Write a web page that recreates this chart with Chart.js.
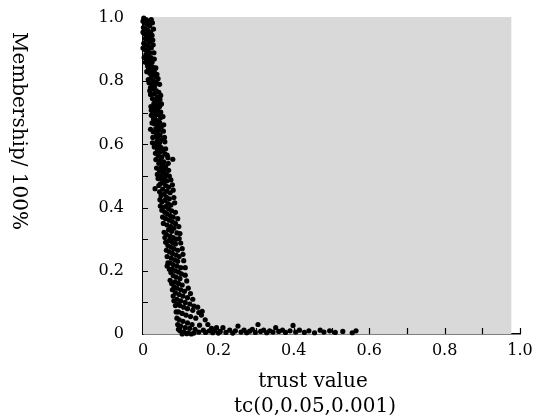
<!DOCTYPE html>
<html>
<head>
<meta charset="utf-8">
<script src="https://cdn.jsdelivr.net/npm/chart.js@4/dist/chart.umd.min.js"></script>
<style>
  html, body { margin: 0; padding: 0; background: #ffffff; }
  #wrap { width: 533px; height: 420px; position: relative; }
</style>
</head>
<body>
<div id="wrap"><canvas id="c" width="533" height="420"></canvas></div>
<script>
// ---- data: [trust value, membership] ----
const dropsTop = [
  [0.002,1.0],[0.008,0.995],[0.015,0.99],[0.004,0.985],[0.011,0.98],[0.018,0.975],[0.001,0.97],[0.007,0.965],
  [0.013,0.96],[0.02,0.955],[0.003,0.95],[0.01,0.945],[0.016,0.94],[0.006,0.935],[0.012,0.93],[0.019,0.925],
  [0.002,0.92],[0.009,0.915],[0.015,0.91],[0.022,0.905],[0.005,0.9],[0.012,0.895],[0.018,0.89],[0.008,0.885],
  [0.014,0.88],[0.021,0.875],[0.01,0.87],[0.017,0.865],[0.024,0.86],[0.013,0.855],
  [0.019,0.85],[0.026,0.845],[0.015,0.84],[0.022,0.835],[0.03,0.83],[0.018,0.825],[0.025,0.82],[0.033,0.815],
  [0.021,0.81],[0.028,0.8],[0.036,0.795],[0.024,0.79],[0.031,0.785],[0.02,0.78],
  [0.027,0.775],[0.035,0.77],[0.042,0.765],[0.03,0.76],[0.038,0.75],[0.025,0.745],[0.033,0.74],[0.041,0.735],
  [0.029,0.73],[0.036,0.725],[0.044,0.72],[0.031,0.715],[0.039,0.71],[0.026,0.705],[0.034,0.7],
  [0.022,0.995],[0.025,0.985],[0.0,0.99],[0.028,0.965],[0.0,0.955],[0.024,0.945],[0.026,0.93],[0.0,0.905],
  [0.027,0.915],[0.029,0.89],[0.003,0.875],[0.006,0.86],[0.03,0.87],
  [0.012,0.848],[0.034,0.842],[0.01,0.83],[0.037,0.822],[0.014,0.805],[0.04,0.808],[0.016,0.795],[0.044,0.79],
  [0.018,0.77],[0.047,0.755],[0.02,0.758],[0.045,0.742],[0.021,0.72],[0.049,0.728],[0.022,0.708],[0.047,0.702]
];
const dropsMiddle = [
  [0.042,0.695],[0.032,0.69],[0.047,0.685],[0.028,0.68],[0.037,0.675],[0.044,0.67],[0.03,0.665],[0.04,0.66],
  [0.048,0.655],[0.034,0.65],[0.042,0.645],[0.027,0.64],[0.036,0.635],[0.045,0.63],[0.033,0.625],[0.04,0.62],
  [0.05,0.615],[0.037,0.61],[0.044,0.605],[0.032,0.6],
  [0.041,0.595],[0.048,0.59],[0.038,0.585],[0.052,0.58],[0.044,0.575],[0.058,0.57],[0.04,0.565],[0.05,0.56],
  [0.079,0.553],[0.066,0.558],[0.046,0.55],[0.055,0.545],[0.042,0.54],[0.051,0.535],[0.06,0.53],[0.047,0.525],
  [0.056,0.52],[0.044,0.515],[0.053,0.51],[0.062,0.505],[0.048,0.5],
  [0.057,0.495],[0.05,0.49],[0.064,0.485],[0.054,0.48],[0.046,0.475],[0.06,0.47],[0.068,0.465],[0.032,0.46],
  [0.052,0.458],[0.063,0.452],[0.072,0.447],[0.056,0.443],[0.048,0.438],[0.062,0.433],[0.07,0.428],[0.058,0.423],
  [0.05,0.418],[0.066,0.413],[0.074,0.408],[0.06,0.403],[0.053,0.4],
  [0.068,0.396],[0.076,0.39],[0.058,0.385],[0.064,0.38],[0.072,0.375],[0.08,0.37],[0.06,0.365],[0.07,0.36],
  [0.078,0.355],[0.086,0.35],[0.064,0.345],[0.074,0.34],[0.082,0.335],[0.068,0.33],[0.076,0.325],[0.09,0.32],
  [0.062,0.315],[0.072,0.31],[0.08,0.305],[0.088,0.3],
  [0.022,0.692],[0.053,0.688],[0.024,0.668],[0.055,0.662],[0.02,0.648],[0.054,0.642],[0.026,0.622],[0.057,0.622],
  [0.025,0.605],[0.058,0.608],
  [0.03,0.592],[0.06,0.586],[0.033,0.572],[0.064,0.566],[0.034,0.552],[0.067,0.54],[0.036,0.525],[0.068,0.518],
  [0.038,0.505],[0.07,0.5],
  [0.04,0.492],[0.074,0.488],[0.042,0.47],[0.078,0.472],[0.044,0.45],[0.08,0.455],[0.045,0.425],[0.082,0.432],
  [0.046,0.405],[0.084,0.415],
  [0.05,0.392],[0.086,0.385],[0.052,0.37],[0.092,0.365],[0.054,0.35],[0.095,0.34],[0.056,0.322],[0.098,0.318],
  [0.058,0.305],[0.096,0.302]
];
const dropsLow = [
  [0.07,0.296],[0.078,0.29],[0.086,0.285],[0.066,0.28],[0.074,0.275],[0.082,0.27],[0.092,0.265],[0.07,0.26],
  [0.078,0.255],[0.088,0.25],[0.096,0.245],[0.075,0.24],[0.084,0.235],[0.092,0.23],[0.072,0.225],[0.08,0.22],
  [0.09,0.215],[0.1,0.21],[0.078,0.205],[0.086,0.2],[0.064,0.215],
  [0.094,0.196],[0.102,0.19],[0.08,0.185],[0.088,0.18],[0.098,0.175],[0.072,0.17],[0.085,0.165],[0.094,0.16],
  [0.104,0.155],[0.082,0.15],[0.09,0.145],[0.1,0.14],[0.11,0.135],[0.086,0.13],[0.096,0.125],[0.106,0.12],
  [0.118,0.115],[0.09,0.11],[0.1,0.105],[0.112,0.1],[0.124,0.095],
  [0.092,0.095],[0.098,0.09],[0.108,0.085],[0.118,0.08],[0.132,0.075],[0.094,0.07],[0.104,0.065],[0.114,0.06],
  [0.126,0.055],[0.14,0.05],[0.096,0.045],[0.106,0.04],[0.118,0.035],[0.13,0.03],[0.15,0.028],[0.1,0.025],
  [0.112,0.02],[0.124,0.018],[0.138,0.015],[0.16,0.012],[0.176,0.01],[0.098,0.01],[0.108,0.006],[0.12,0.004],
  [0.135,0.003],[0.148,0.006],[0.166,0.005],[0.185,0.004],[0.2,0.003],[0.104,0.0],[0.116,0.001],[0.128,0.0],
  [0.155,0.06],[0.157,0.072],
  [0.06,0.29],[0.1,0.288],[0.062,0.265],[0.104,0.27],[0.064,0.245],[0.106,0.252],[0.066,0.225],[0.108,0.232],
  [0.07,0.205],[0.112,0.21],
  [0.074,0.195],[0.112,0.186],[0.076,0.16],[0.116,0.168],[0.078,0.14],[0.12,0.145],[0.08,0.12],[0.126,0.128],
  [0.082,0.105],[0.132,0.11],[0.135,0.088],
  [0.086,0.09],[0.145,0.085],[0.088,0.07],[0.148,0.068],[0.09,0.05],[0.165,0.045],[0.092,0.03],[0.172,0.03],
  [0.094,0.015],[0.182,0.018],[0.19,0.01],[0.195,0.02]
];
const dropsTail = [
  [0.205,0.008],[0.212,0.02],[0.22,0.005],[0.23,0.012],[0.238,0.003],[0.245,0.01],[0.252,0.025],[0.26,0.006],
  [0.268,0.012],[0.275,0.004],[0.283,0.009],[0.29,0.015],[0.298,0.005],[0.305,0.03],[0.312,0.008],[0.32,0.012],
  [0.328,0.004],[0.336,0.01],[0.345,0.006],[0.352,0.02],[0.36,0.008],[0.37,0.012],[0.378,0.005],[0.39,0.01],
  [0.398,0.027],[0.405,0.006],[0.415,0.012],[0.428,0.005],[0.44,0.01],[0.455,0.004],[0.47,0.012],[0.48,0.006],
  [0.495,0.01],[0.51,0.005],[0.53,0.008],[0.555,0.004],[0.565,0.01]
];
const xTickValues = [0, 0.2, 0.4, 0.6, 0.8, 1.0];
const yTickValues = [0, 0.2, 0.4, 0.6, 0.8, 1.0];
const xTitle = ['trust value', 'tc(0,0.05,0.001)'];
const yTitle = 'Membership/ 100%';

const allDrops = [].concat(dropsTop, dropsMiddle, dropsLow, dropsTail).map(p => ({x: p[0], y: p[1]}));

const fmt = v => (Math.abs(v) < 1e-9 ? '0' : Number(v).toFixed(1));

const bgPlugin = {
  id: 'grayArea',
  beforeDatasetsDraw(chart) {
    const {ctx, chartArea, scales} = chart;
    ctx.save();
    ctx.fillStyle = '#d9d9d9';
    const right = scales.x.getPixelForValue(0.977);
    ctx.fillRect(chartArea.left, chartArea.top - 1, right - chartArea.left, chartArea.bottom - chartArea.top + 1);
    ctx.restore();
  }
};

const tickPlugin = {
  id: 'innerTicks',
  afterDraw(chart) {
    const {ctx, scales} = chart;
    const xs = scales.x, ys = scales.y;
    ctx.save();
    ctx.strokeStyle = '#000';
    ctx.lineWidth = 1.2;
    ctx.beginPath();
    for (let i = 1; i <= 10; i++) {
      const px = Math.round(xs.getPixelForValue(i / 10)) + 0.5;
      ctx.moveTo(px, ys.bottom);
      ctx.lineTo(px, ys.bottom - 6);
      const py = Math.round(ys.getPixelForValue(i / 10)) + 0.5;
      ctx.moveTo(xs.left, py);
      ctx.lineTo(xs.left + 5, py);
    }
    ctx.stroke();
    ctx.fillStyle = '#000';
    ctx.font = '20px "DejaVu Serif"';
    ctx.textAlign = 'center';
    ctx.textBaseline = 'middle';
    // x title (two lines), slightly left of the axis centre as in the original
    ctx.fillText(xTitle[0], 313, 382);
    ctx.fillText(xTitle[1], 315, 407);
    // rotated y title reading top to bottom
    ctx.translate(18, 131);
    ctx.rotate(Math.PI / 2);
    ctx.fillText(yTitle, 0, 0);
    ctx.restore();
  }
};

new Chart(document.getElementById('c'), {
  type: 'scatter',
  data: {
    datasets: [{
      data: allDrops,
      backgroundColor: '#000',
      borderWidth: 0,
      pointRadius: 2.6,
      pointHoverRadius: 2.6,
      clip: false
    }]
  },
  options: {
    responsive: false,
    animation: false,
    devicePixelRatio: 1,
    layout: { padding: { top: 18, right: 13, left: 0, bottom: 0 } },
    plugins: { legend: { display: false }, tooltip: { enabled: false } },
    scales: {
      x: {
        type: 'linear', min: 0, max: 1,
        afterBuildTicks: s => { s.ticks = xTickValues.map(v => ({value: v})); },
        afterFit: s => { s.height = 86; s.paddingRight = 0; s.paddingLeft = 0; },
        grid: { display: false, drawTicks: false },
        border: { display: true, color: '#000', width: 1.5 },
        ticks: {
          padding: 7, color: '#000', maxRotation: 0, autoSkip: false,
          font: { family: 'DejaVu Serif', size: 16 },
          callback: v => fmt(v)
        }
      },
      y: {
        type: 'linear', min: 0, max: 1,
        afterBuildTicks: s => { s.ticks = yTickValues.map(v => ({value: v})); },
        afterFit: s => { s.width = 143; s.paddingTop = 0; s.paddingBottom = 0; },
        grid: { display: false, drawTicks: false },
        border: { display: true, color: '#000', width: 1.5 },
        ticks: {
          padding: 19, color: '#000', autoSkip: false,
          font: { family: 'DejaVu Serif', size: 16 },
          callback: v => fmt(v)
        }
      }
    }
  },
  plugins: [bgPlugin, tickPlugin]
});
</script>
</body>
</html>
